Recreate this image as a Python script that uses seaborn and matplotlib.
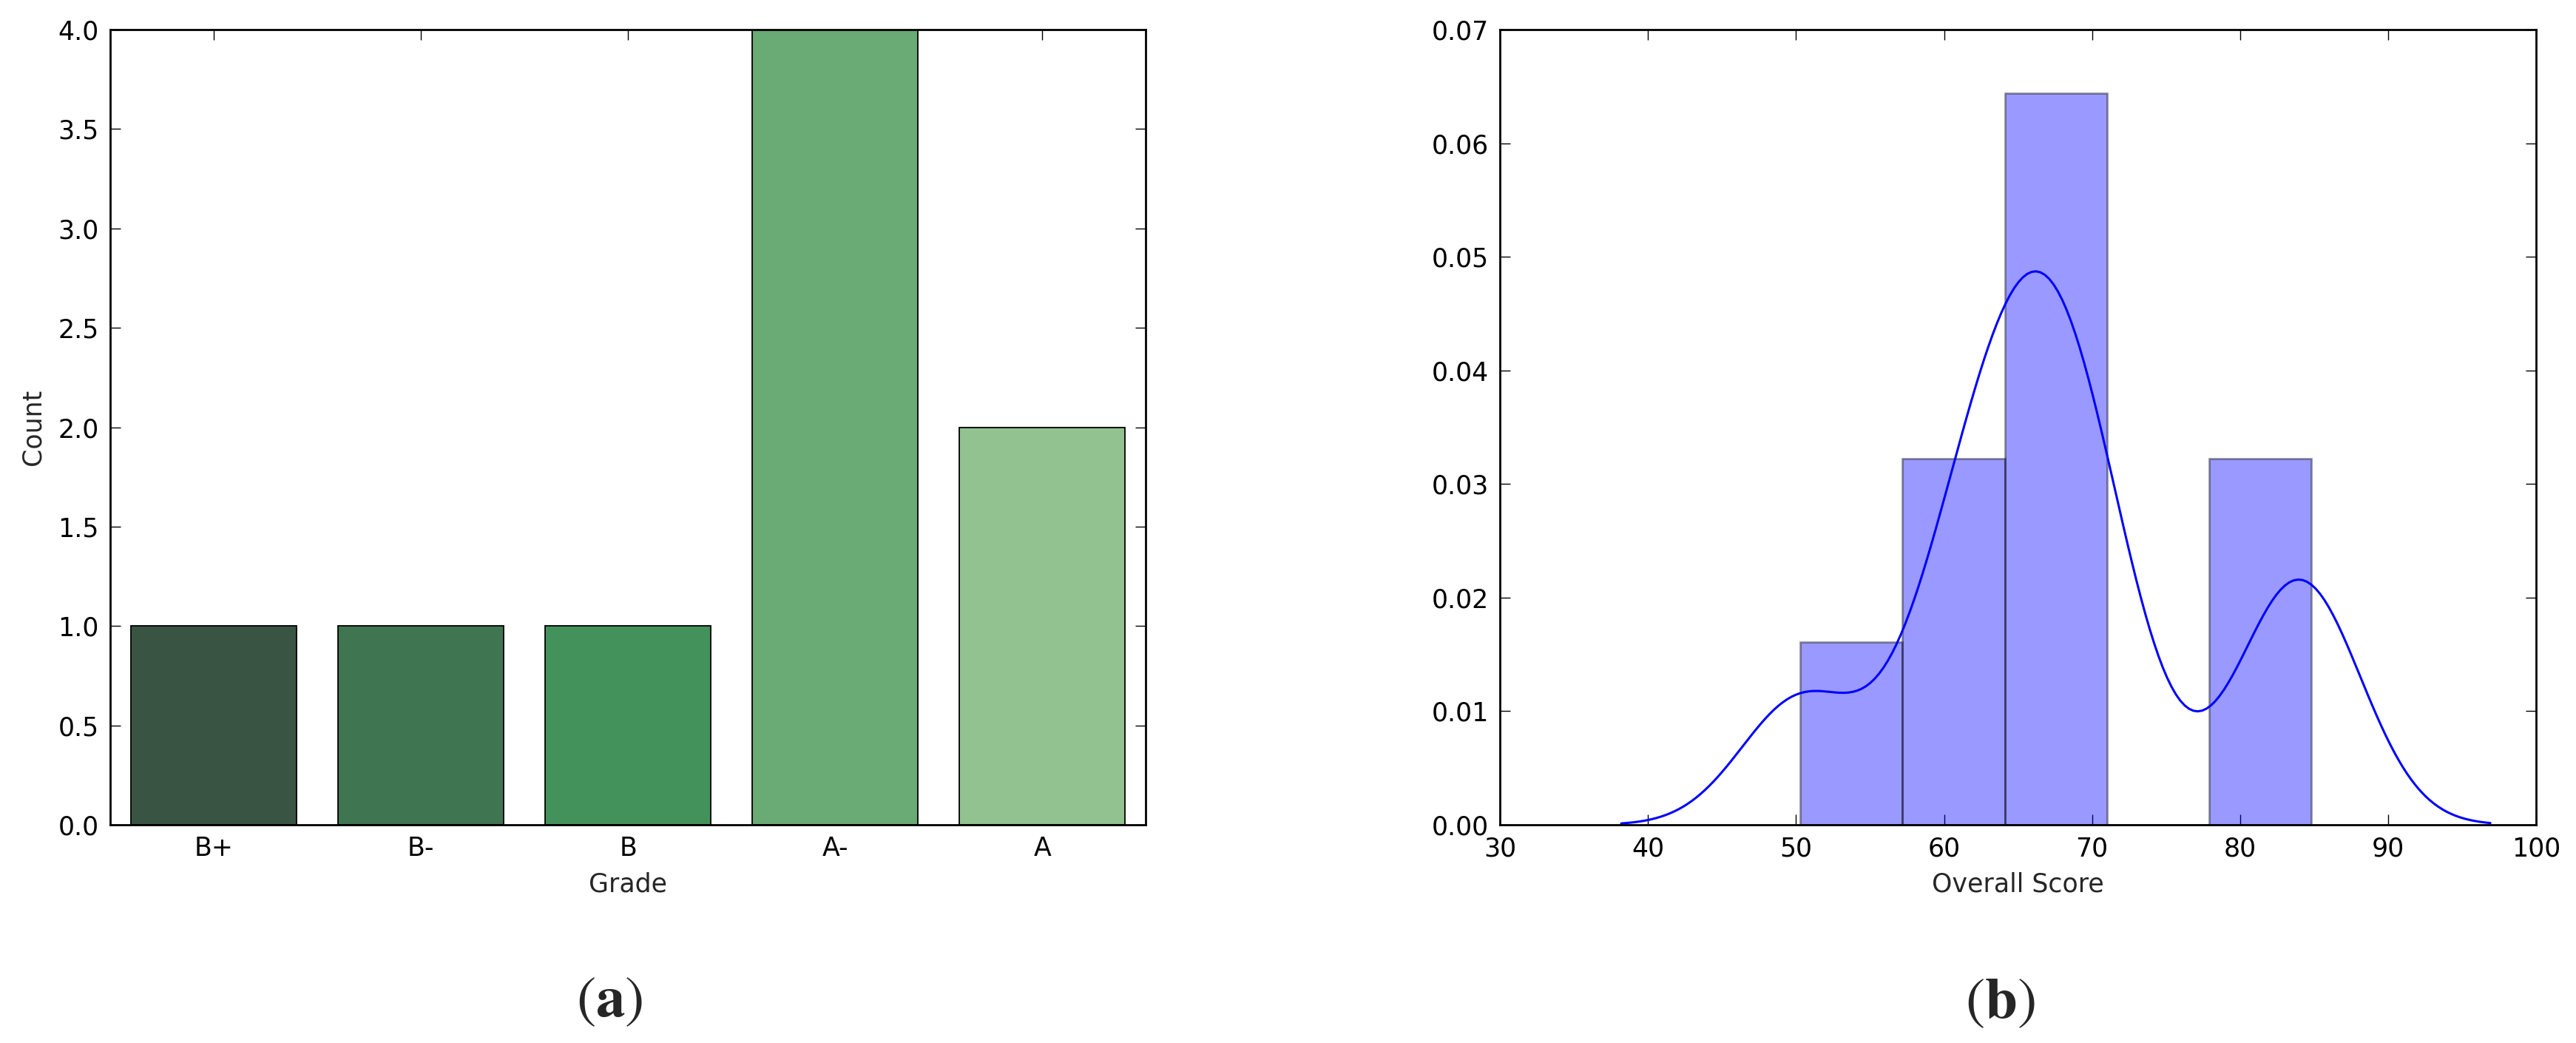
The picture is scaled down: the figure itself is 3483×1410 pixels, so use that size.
import seaborn as sns
import pandas as pd
from matplotlib import pyplot as plt

# grade counts (panel a)
grades = ['B+', 'B-', 'B', 'A-', 'A']
grade_counts = [1, 1, 1, 4, 2]
grade_colors = ['#3a5443', '#3f7550', '#44925b', '#69aa75', '#91c28f']

# overall scores of the 9 students (panel b)
scores = [50.3, 60.3, 62.8, 65.5, 67.0, 68.3, 70.6, 83.2, 84.8]

sns.set_style('ticks', {'xtick.direction': 'in', 'ytick.direction': 'in',
                        'axes.edgecolor': 'black'})
plt.rcParams['font.family'] = ['DejaVu Sans']
plt.rcParams['mathtext.fontset'] = 'stix'

fig = plt.figure(figsize=(34.83, 14.1), dpi=100)
ax1 = fig.add_axes([0.04278, 0.2092, 0.4020, 0.7624])
ax2 = fig.add_axes([0.5823, 0.2092, 0.4022, 0.7624])

df = pd.DataFrame({'Grade': grades, 'Count': grade_counts})
sns.barplot(x='Grade', y='Count', hue='Grade', data=df, palette=grade_colors,
            saturation=1, legend=False, edgecolor='black', linewidth=1.3,
            width=0.8, ax=ax1)
ax1.set_xlim(-0.5, 4.5)
ax1.set_ylim(0, 4)
ax1.set_yticks([0, 0.5, 1, 1.5, 2, 2.5, 3, 3.5, 4])
ax1.set_yticklabels(['0.0', '0.5', '1.0', '1.5', '2.0', '2.5', '3.0', '3.5', '4.0'])

sns.histplot(x=scores, bins=5, stat='density', facecolor=(0, 0, 1, 0.4),
             edgecolor=(0, 0, 0, 0.4), linewidth=2, ax=ax2)
sns.kdeplot(x=scores, bw_method=0.375, color='blue', linewidth=2.2, ax=ax2)
ax2.set_xlim(30, 100)
ax2.set_ylim(0, 0.07)
ax2.set_xticks(range(30, 101, 10))
ax2.set_yticks([0, 0.01, 0.02, 0.03, 0.04, 0.05, 0.06, 0.07])
ax2.set_yticklabels(['0.00', '0.01', '0.02', '0.03', '0.04', '0.05', '0.06', '0.07'])
ax2.set_xlabel('Overall Score')
ax2.set_ylabel('')

for ax in (ax1, ax2):
    ax.tick_params(axis='both', which='major', direction='in', length=10, width=1,
                   top=True, right=True, labelsize=25, pad=11, colors='black')
    for s in ax.spines.values():
        s.set_linewidth(2)
        s.set_color('black')
    ax.xaxis.label.set_size(25)
    ax.yaxis.label.set_size(25)
    ax.xaxis.labelpad = 10
    ax.yaxis.labelpad = 12

fig.text(824 / 3483, 1 - 1352 / 1410, r'$(\mathbf{a})$', ha='center', va='center', fontsize=57)
fig.text(2704 / 3483, 1 - 1354 / 1410, r'$(\mathbf{b})$', ha='center', va='center', fontsize=57)

fig.savefig('out.png', dpi=100, facecolor='white')
